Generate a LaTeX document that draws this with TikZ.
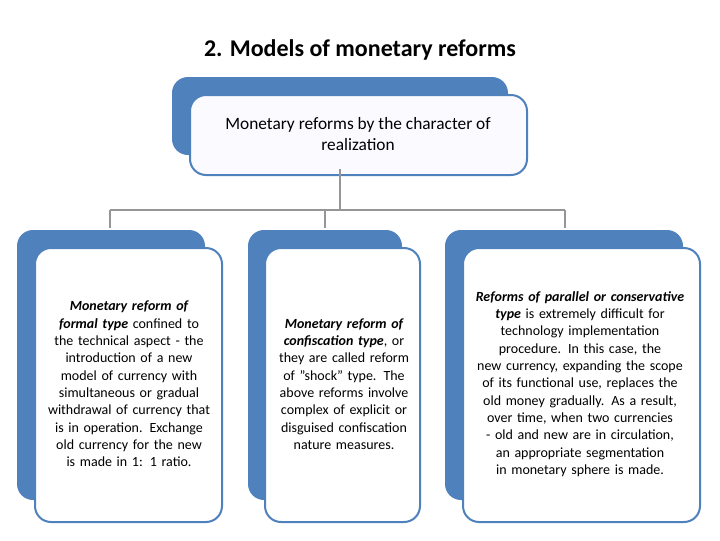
\documentclass[tikz,border=0pt]{standalone}
\usepackage{fontspec}
\setmainfont{Carlito}
\definecolor{backblue}{RGB}{79,129,189}
\definecolor{linegray}{RGB}{150,150,150}
\tikzset{
  back/.style={fill=backblue, rounded corners=12pt},
  front/.style={draw=backblue, line width=1.5pt, fill=white, rounded corners=12pt},
  txt/.style={align=center, font=\fontsize{10.5}{13}\selectfont},
  link/.style={draw=linegray, line width=2pt}
}
\hyphenpenalty=10000
\exhyphenpenalty=10000
\begin{document}
\begin{tikzpicture}[x=0.75pt,y=-0.75pt]
        \useasboundingbox (0,0) rectangle (720,540);
        \node (title) at (360,50) {\fontsize{18}{21}\selectfont\bfseries 2. Models of monetary reforms};

        % top box
        \fill [back] (172,77) rectangle (508,155);
        \draw [front, fill=blue!2] (190,95) rectangle (527,175);
        \node [txt, font=\fontsize{13}{16}\selectfont] (top) at (358,134) {Monetary reforms by the character of\\realization};

        % connectors
        \coordinate (hub) at (340,210);
        \coordinate (l) at (110,210);
        \coordinate (m) at (325,210);
        \coordinate (r) at (565,210);
        \draw [link] (top.south -| hub) ++(0,14) -- (hub);
        \draw [link] (l) -- (r);
        \foreach \p in {l,m,r} {
            \draw [link] (\p) -- ++(0,18);
        }

        % columns
        \fill [back] (17,230) rectangle (205,500);
        \draw [front] (35,248) rectangle (222,522);
        \fill [back] (248,230) rectangle (402,500);
        \draw [front] (265,248) rectangle (420,522);
        \fill [back] (445,230) rectangle (683,500);
        \draw [front] (463,248) rectangle (700,522);

        \node [txt, text width=170pt*0.75] (left) at (129,384) {\textit{\textbf{Monetary reform of formal type}} confined to the technical aspect - the introduction of a new model of currency with simultaneous or gradual withdrawal of currency that is in operation. Exchange old currency for the new is made in 1: 1 ratio.};
        \node [txt, text width=145pt*0.75] (mid) at (344,384) {\textit{\textbf{Monetary reform of confiscation type}}, or they are called reform of "shock" type. The above reforms involve complex of explicit or disguised confiscation nature measures.};
        \node [txt, text width=218pt*0.75] (right) at (580,384) {\textit{\textbf{Reforms of parallel or conservative type}} is extremely difficult for technology implementation procedure. In this case, the new currency, expanding the scope of its functional use, replaces the old money gradually. As a result, over time, when two currencies - old and new are in circulation, an appropriate segmentation in monetary sphere is made.};
\end{tikzpicture}
\end{document}
